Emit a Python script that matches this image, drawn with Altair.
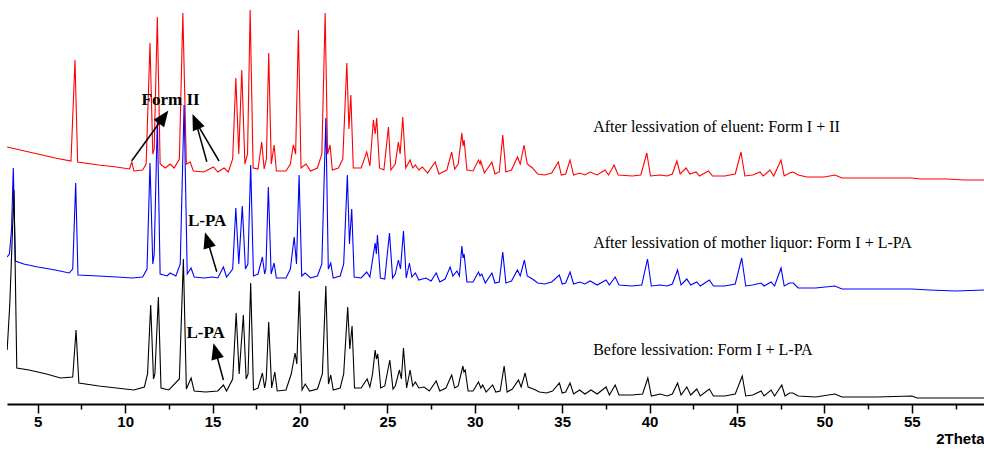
import altair as alt
import pandas as pd

# ---- diffraction traces: (2Theta, intensity in plot units) ----
red = [(3.25, 257), (4.0, 254), (5.0, 250), (6.0, 246), (6.9, 243), (7.13, 344), (7.28, 242), (8.5, 239),
       (9.5, 237), (10.25, 235), (10.38, 242), (10.5, 233), (11.0, 234), (11.2, 240), (11.42, 361), (11.58, 250),
       (11.66, 255), (11.84, 387), (12.0, 240), (12.3, 236), (12.57, 240), (12.8, 236), (13.1, 245), (13.30, 391),
       (13.5, 240), (13.72, 242), (13.9, 233), (14.5, 232), (15.05, 237), (15.3, 232), (15.66, 236), (15.9, 232),
       (16.15, 245), (16.33, 326), (16.5, 250), (16.67, 334), (16.85, 240), (17.0, 250), (17.15, 394), (17.32, 236),
       (17.6, 235), (17.81, 262), (17.95, 235), (18.08, 245), (18.21, 351), (18.36, 240), (18.52, 259), (18.65, 233),
       (19.2, 233), (19.45, 240), (19.62, 259), (19.75, 250), (19.91, 374), (20.06, 236), (20.35, 240), (20.6, 233),
       (21.0, 236), (21.25, 250), (21.44, 391), (21.58, 250), (21.72, 259), (21.85, 234), (22.2, 236), (22.45, 245),
       (22.68, 341), (22.80, 275), (22.91, 309), (23.05, 236), (23.5, 236), (23.82, 252), (24.0, 238), (24.20, 284),
       (24.3, 270), (24.39, 286), (24.55, 236), (24.8, 234), (25.06, 277), (25.2, 234), (25.45, 240), (25.63, 262),
       (25.73, 250), (25.88, 287), (26.05, 236), (26.30, 244), (26.45, 236), (26.6, 239), (26.8, 234), (27.0, 237),
       (27.3, 231), (27.73, 242), (27.95, 230), (28.4, 234), (28.68, 252), (28.85, 235), (29.05, 240), (29.26, 271),
       (29.33, 258), (29.39, 264), (29.55, 234), (29.9, 233), (30.21, 244), (30.3, 240), (30.34, 243), (30.55, 231),
       (30.98, 242), (31.15, 230), (31.4, 232), (31.60, 269), (31.78, 232), (32.1, 234), (32.44, 247), (32.6, 240),
       (32.82, 259), (33.0, 240), (33.3, 236), (33.6, 230), (34.0, 229), (34.4, 231), (34.78, 242), (34.95, 229),
       (35.2, 230), (35.45, 244), (35.65, 229), (36.0, 231), (36.3, 229), (36.6, 232), (37.0, 229), (37.45, 234),
       (37.65, 229), (37.97, 239), (38.2, 229), (39.0, 228), (39.5, 229), (39.84, 251), (40.05, 228), (40.6, 229),
       (41.0, 228), (41.3, 230), (41.56, 243), (41.75, 230), (42.09, 236), (42.3, 230), (42.66, 232), (42.85, 228),
       (43.37, 233), (43.6, 228), (44.3, 228), (44.9, 230), (45.23, 252), (45.45, 228), (45.9, 229), (46.32, 232),
       (46.5, 228), (46.89, 234), (47.1, 228), (47.52, 244), (47.7, 228), (48.0, 231), (48.21, 232), (48.5, 229),
       (49.0, 227), (50.0, 227), (50.6, 229), (51.0, 226), (52.0, 226), (53.5, 226), (55.0, 226), (55.5, 225),
       (57.0, 225), (58.0, 224), (59.13, 224)]

blue = [(3.25, 147), (3.38, 150), (3.5, 175), (3.60, 236), (3.72, 143), (4.2, 140), (5.0, 137), (6.0, 134),
        (6.8, 131), (7.0, 135), (7.17, 221), (7.3, 129), (8.5, 128), (9.5, 127), (10.4, 126), (11.0, 127),
        (11.25, 135), (11.42, 241), (11.58, 140), (11.66, 150), (11.84, 284), (12.0, 130), (12.4, 128), (12.57, 131),
        (12.9, 128), (13.15, 140), (13.37, 299), (13.55, 130), (13.77, 136), (13.95, 127), (14.5, 126), (15.0, 127),
        (15.3, 126), (15.62, 137), (15.8, 127), (16.15, 135), (16.33, 196), (16.5, 140), (16.70, 198), (16.88, 135),
        (17.02, 140), (17.18, 239), (17.34, 128), (17.6, 130), (17.85, 147), (17.98, 130), (18.05, 135), (18.19, 217),
        (18.35, 130), (18.52, 141), (18.65, 126), (19.2, 126), (19.45, 135), (19.67, 167), (19.8, 140), (19.95, 229),
        (20.1, 128), (20.3, 131), (20.6, 126), (21.0, 128), (21.25, 140), (21.48, 286), (21.62, 135), (21.76, 141),
        (21.9, 126), (22.3, 128), (22.5, 140), (22.71, 229), (22.83, 160), (22.96, 195), (23.1, 127), (23.5, 126),
        (23.82, 132), (24.0, 127), (24.30, 161), (24.37, 150), (24.43, 169), (24.6, 126), (24.85, 125), (25.12, 171),
        (25.3, 126), (25.45, 130), (25.63, 144), (25.75, 135), (25.92, 173), (26.08, 126), (26.26, 141), (26.4, 127),
        (26.6, 131), (26.8, 124), (27.2, 126), (27.5, 123), (27.79, 131), (28.0, 122), (28.3, 125), (28.59, 137),
        (28.75, 128), (28.98, 133), (29.12, 128), (29.26, 158), (29.33, 146), (29.39, 150), (29.55, 122), (29.9, 122),
        (30.21, 132), (30.3, 128), (30.40, 130), (30.6, 121), (30.98, 131), (31.15, 121), (31.4, 122), (31.60, 152),
        (31.78, 121), (32.1, 123), (32.44, 134), (32.6, 128), (32.84, 144), (33.0, 128), (33.3, 125), (33.6, 121),
        (34.0, 120), (34.4, 122), (34.84, 129), (35.0, 120), (35.2, 121), (35.45, 132), (35.65, 120), (36.0, 122),
        (36.3, 120), (36.6, 123), (37.0, 119), (37.51, 124), (37.7, 119), (38.03, 127), (38.25, 119), (39.0, 118),
        (39.55, 119), (39.88, 145), (40.1, 118), (40.6, 119), (41.0, 118), (41.3, 120), (41.60, 134), (41.8, 119),
        (42.13, 125), (42.35, 119), (42.70, 122), (42.9, 118), (43.42, 124), (43.65, 118), (44.3, 118), (44.9, 120),
        (45.27, 146), (45.5, 118), (45.9, 119), (46.38, 121), (46.55, 118), (46.95, 122), (47.15, 118), (47.52, 136),
        (47.7, 118), (48.0, 121), (48.22, 121), (48.5, 116), (49.5, 116), (50.6, 118), (51.0, 115), (53.0, 115),
        (55.0, 115), (56.0, 114), (57.5, 113), (59.13, 114)]

black = [(3.25, 54), (3.4, 100), (3.64, 214), (3.8, 36), (4.5, 34), (5.5, 30), (6.3, 26), (7.0, 27), (7.19, 74),
         (7.35, 21), (8.5, 18), (9.5, 16), (10.5, 14), (11.1, 17), (11.28, 30), (11.46, 99), (11.62, 25), (11.7, 30),
         (11.90, 107), (12.05, 16), (12.5, 14), (13.1, 25), (13.33, 145), (13.5, 15), (13.77, 26), (13.95, 13),
         (14.6, 12), (15.3, 13), (15.62, 19), (15.8, 13), (16.15, 25), (16.35, 91), (16.52, 30), (16.76, 89),
         (16.92, 25), (17.03, 30), (17.18, 121), (17.34, 14), (17.6, 16), (17.85, 31), (17.98, 16), (18.07, 25),
         (18.21, 82), (18.38, 16), (18.56, 32), (18.7, 13), (19.2, 14), (19.5, 30), (19.72, 51), (19.82, 40),
         (19.96, 113), (20.12, 14), (20.3, 20), (20.55, 13), (21.0, 15), (21.28, 30), (21.48, 118), (21.63, 20),
         (21.76, 29), (21.9, 14), (22.3, 16), (22.5, 30), (22.73, 97), (22.85, 55), (22.98, 78), (23.12, 16),
         (23.5, 16), (23.84, 25), (24.0, 17), (24.15, 30), (24.30, 54), (24.37, 45), (24.45, 50), (24.62, 16),
         (24.85, 18), (25.14, 44), (25.32, 15), (25.45, 18), (25.69, 34), (25.8, 25), (25.92, 56), (26.1, 16),
         (26.30, 34), (26.45, 18), (26.6, 22), (26.8, 16), (27.1, 17), (27.4, 13), (27.79, 23), (28.0, 13),
         (28.35, 16), (28.68, 29), (28.85, 16), (29.05, 18), (29.32, 38), (29.38, 32), (29.45, 34), (29.62, 13),
         (29.9, 13), (30.21, 22), (30.35, 16), (30.45, 19), (30.65, 12), (31.02, 19), (31.2, 12), (31.45, 13),
         (31.68, 38), (31.85, 12), (32.15, 15), (32.50, 24), (32.65, 17), (32.88, 31), (33.05, 17), (33.35, 15),
         (33.7, 12), (34.1, 11), (34.45, 13), (34.84, 21), (35.0, 11), (35.2, 12), (35.45, 21), (35.65, 10),
         (36.0, 14), (36.3, 10), (36.65, 14), (37.0, 10), (37.51, 17), (37.7, 9), (38.03, 19), (38.25, 9),
         (39.0, 9), (39.6, 10), (39.90, 26), (40.1, 8), (40.6, 10), (41.0, 8), (41.3, 10), (41.60, 21), (41.8, 9),
         (42.13, 17), (42.35, 9), (42.70, 15), (42.9, 8), (43.42, 15), (43.65, 8), (44.3, 8), (44.9, 10),
         (45.30, 28), (45.5, 8), (45.9, 9), (46.38, 13), (46.55, 8), (46.95, 14), (47.15, 8), (47.56, 19),
         (47.75, 8), (48.0, 11), (48.2, 11), (48.5, 8), (49.5, 7), (50.6, 10), (51.0, 7), (53.0, 7), (55.0, 8),
         (55.3, 6), (57.0, 6), (59.13, 6)]

trace_names = ["red", "blue", "black"]
trace_colors = ["#ff0000", "#0000ff", "#000000"]

# ---- annotations ----
label_text = ["Form II", "L-PA", "L-PA"]
label_x = [12.60, 14.69, 14.60]
label_y = [304, 183, 71]

caption_text = ["After lessivation of eluent: Form I + II",
                "After lessivation of mother liquor: Form I + L-PA",
                "Before lessivation: Form I + L-PA"]
caption_x = [36.77, 36.77, 36.77]
caption_y = [277, 161, 54]

arrow_x1 = [10.38, 14.67, 15.37, 15.24, 15.62]
arrow_y1 = [243.3, 242.3, 243.0, 132.3, 24.0]
arrow_x2 = [12.20, 14.03, 14.03, 14.70, 15.17]
arrow_y2 = [287.0, 282.6, 282.6, 164.0, 53.0]

head_x = [12.20, 14.03, 14.70, 15.17]
head_y = [287.0, 282.6, 164.0, 53.0]
head_angle = [36, 337, 343, 345]

ticks = [5 + 2.5 * k for k in range(22)]

# ---- build tables ----
rows = []
for name, pts in zip(trace_names, [red, blue, black]):
    for k, (t, v) in enumerate(pts):
        rows.append({"series": name, "t": t, "v": v, "k": k})
df = pd.DataFrame(rows)

xscale = alt.Scale(domain=[3.24, 59.13], nice=False, zero=False)
yscale = alt.Scale(domain=[0, 404], nice=False, zero=False)

FONT_AX = "Liberation Sans Narrow, Liberation Sans, Arial"
xaxis = alt.Axis(
    values=ticks,
    labelExpr="datum.value % 5 === 0 ? datum.label : ''",
    title="2Theta",
    titleAnchor="end",
    titleAlign="right",
    titleFont=FONT_AX,
    titleFontSize=15,
    titleFontWeight="bold",
    titleColor="#000",
    titlePadding=2,
    labelFont=FONT_AX,
    labelFontSize=15,
    labelFontWeight="bold",
    labelColor="#000",
    labelPadding=1,
    domainColor="#000",
    domainWidth=2,
    tickColor="#000",
    tickWidth=1.5,
    tickSize={"condition": {"test": "datum.value % 5 === 0", "value": 9}, "value": 5},
    grid=False,
    labelFlush=False,
    labelOverlap=False,
)


def X(field):
    return alt.X(field, scale=xscale, axis=xaxis)


def Y(field):
    return alt.Y(field, scale=yscale, axis=None)


layers = []
for name, col in zip(trace_names, trace_colors):
    layers.append(
        alt.Chart(df).transform_filter(alt.datum.series == name)
        .mark_line(color=col, strokeWidth=1.1, clip=True)
        .encode(x=X("t:Q"), y=Y("v:Q"), order=alt.Order("k:Q"))
    )

arrows_df = pd.DataFrame({"x1": arrow_x1, "y1": arrow_y1, "x2": arrow_x2, "y2": arrow_y2})
layers.append(
    alt.Chart(arrows_df).mark_rule(color="#000", strokeWidth=1.5).encode(
        x=X("x1:Q"), y=Y("y1:Q"), x2="x2:Q", y2="y2:Q")
)

heads_df = pd.DataFrame({"x": head_x, "y": head_y, "a": head_angle})
layers.append(
    alt.Chart(heads_df).mark_point(shape="M0,-1L-0.8,1L0.8,1Z", filled=True, color="#000",
                                   size=256, opacity=1).encode(
        x=X("x:Q"), y=Y("y:Q"), angle=alt.Angle("a:Q", scale=None))
)

labels_df = pd.DataFrame({"x": label_x, "y": label_y, "txt": label_text})
layers.append(
    alt.Chart(labels_df).mark_text(font="Liberation Serif", fontSize=17, fontWeight="bold",
                                   color="#000", align="center", baseline="middle").encode(
        x=X("x:Q"), y=Y("y:Q"), text="txt:N")
)

caps_df = pd.DataFrame({"x": caption_x, "y": caption_y, "txt": caption_text})
layers.append(
    alt.Chart(caps_df).mark_text(font="Liberation Serif", fontSize=16, color="#000",
                                 align="left", baseline="middle").encode(
        x=X("x:Q"), y=Y("y:Q"), text="txt:N")
)

chart = alt.layer(*layers).properties(
    width=977, height=404,
    autosize=alt.AutoSizeParams(type="none"),
    padding={"left": 7, "top": 0, "right": 0, "bottom": 49},
    background="#ffffff",
).configure_view(stroke=None)

chart.save("out.html", embed_options={"renderer": "svg", "actions": False})
